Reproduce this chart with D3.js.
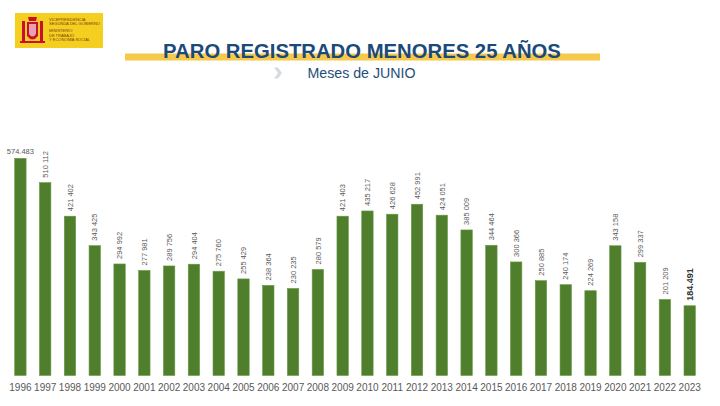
<!DOCTYPE html>
<html><head><meta charset="utf-8">
<script src="https://cdn.jsdelivr.net/npm/d3@7"></script>
<style>html,body{margin:0;padding:0;background:#fff;}svg{display:block;}</style>
</head><body>
<svg id="c" width="720" height="406"></svg>
<script>
const years = ["1996","1997","1998","1999","2000","2001","2002","2003","2004","2005","2006","2007","2008","2009","2010","2011","2012","2013","2014","2015","2016","2017","2018","2019","2020","2021","2022","2023"];
const values = [574483,510112,421402,343425,294992,277981,289756,294404,275760,255429,238364,230235,280579,421403,435217,426628,452991,424051,385009,344464,300366,250885,240174,224269,343158,299337,201209,184491];
const valueLabels = ["574.483","510 112","421 402","343 425","294 992","277 981","289 756","294 404","275 760","255 429","238 364","230 235","280 579","421 403","435 217","426 628","452 991","424 051","385 009","344 464","300 366","250 885","240 174","224 269","343 158","299 337","201 209","184.491"];
const title = "PARO REGISTRADO MENORES 25 AÑOS";
const subtitle = "Meses de JUNIO";

const svg = d3.select("#c");
const font = "'Liberation Sans', Arial, sans-serif";

// Logo
const logo = svg.append("g");
logo.append("rect").attr("x",15).attr("y",13).attr("width",88).attr("height",35).attr("fill","#F5CF1F");
// simplified coat of arms
logo.append("rect").attr("x",22).attr("y",21).attr("width",3).attr("height",20).attr("fill","#C8102E");
logo.append("rect").attr("x",40).attr("y",21).attr("width",3).attr("height",20).attr("fill","#C8102E");
logo.append("path").attr("d","M27,22 L38,22 L38,36 Q32.5,43 27,36 Z").attr("fill","#C8102E");
logo.append("path").attr("d","M29,24 L36,24 L36,34 Q32.5,39 29,34 Z").attr("fill","#E9A0B0");
logo.append("path").attr("d","M28,17 L37,17 L36,21 L29,21 Z").attr("fill","#C8102E");
logo.append("rect").attr("x",20).attr("y",41).attr("width",25).attr("height",2).attr("fill","#C8102E");
const logoLines = [["VICEPRESIDENCIA",20.5],["SEGUNDA DEL GOBIERNO",25],["MINISTERIO",32],["DE TRABAJO",36.5],["Y ECONOMÍA SOCIAL",41]];
logo.selectAll("text.l").data(logoLines).join("text")
  .attr("x",49).attr("y",d=>d[1]).attr("font-family",font).attr("font-size",4)
  .attr("fill","#7a3b1a").text(d=>d[0]);

// Title
svg.append("rect").attr("x",125).attr("y",53.5).attr("width",475).attr("height",7).attr("fill","#F6C94A");
svg.append("text").attr("x",362).attr("y",57.5).attr("text-anchor","middle")
  .attr("font-family",font).attr("font-weight","bold").attr("font-size",20.3)
  .attr("fill","#1B4A7A").text(title);
svg.append("path").attr("d","M274,67.5 L278,67.5 L282,73 L278,78.5 L274,78.5 L278,73 Z").attr("fill","#D6DBE3");
svg.append("text").attr("x",361.5).attr("y",78).attr("text-anchor","middle")
  .attr("font-family",font).attr("font-size",14.2).attr("fill","#1F4E79").text(subtitle);

// Scales
const step = (689.7-20.4)/27;
const x = d3.scaleBand().domain(years).range([20.4-step/2, 689.7+step/2]).paddingInner(0.54).paddingOuter(0.27);
const y = d3.scaleLinear().domain([0, 574483]).range([375.5, 158.3]);

const data = years.map((yr,i)=>({yr, v:values[i], lab:valueLabels[i], i}));

svg.append("g").selectAll("rect").data(data).join("rect")
  .attr("x",d=>x(d.yr)).attr("width",x.bandwidth())
  .attr("y",d=>y(d.v)).attr("height",d=>y(0)-y(d.v))
  .attr("fill","#4F7F2C").attr("stroke","#6B9A45").attr("stroke-width",0.6);

// value labels
const lg = svg.append("g");
data.forEach(d=>{
  const cx = x(d.yr)+x.bandwidth()/2;
  if (d.i===0) {
    lg.append("text").attr("x",cx).attr("y",y(d.v)-4.5).attr("text-anchor","middle")
      .attr("font-family",font).attr("font-size",7.5).attr("fill","#595959").text(d.lab);
  } else {
    const last = d.i===data.length-1;
    lg.append("text")
      .attr("transform",`translate(${cx+ (last?3.2:2.7)},${y(d.v)-5}) rotate(-90)`)
      .attr("font-family",font).attr("font-size",last?9:7.5)
      .attr("font-weight",last?"bold":"normal")
      .attr("fill",last?"#333":"#595959").text(d.lab);
  }
});

// x axis
const ax = svg.append("g").attr("transform","translate(0,375.5)")
  .call(d3.axisBottom(x).tickSize(0).tickPadding(0));
ax.select(".domain").remove();
ax.selectAll("text").attr("font-family",font).attr("font-size",10).attr("fill","#595959")
  .attr("dy",null).attr("y",15.5);
</script>
</body></html>
